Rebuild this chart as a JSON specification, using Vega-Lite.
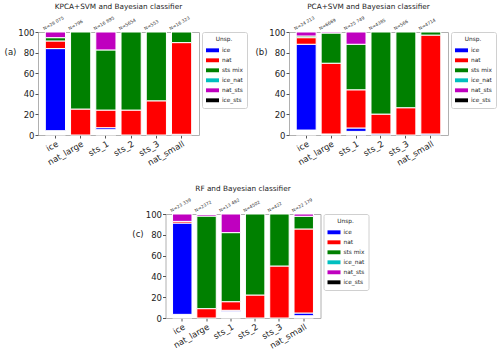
{
  "$schema": "https://vega.github.io/schema/vega-lite/v6.json",
  "padding": {"left": 3, "top": 2, "right": 0, "bottom": 0},
  "config": {
    "font": "DejaVu Sans",
    "view": {"stroke": "#b0b0b0", "strokeWidth": 1},
    "axis": {"grid": false, "domain": false, "tickColor": "#555", "tickSize": 3, "labelColor": "#222", "labelFontSize": 8.5, "labelPadding": 1, "labelOverlap": false, "labelFlush": false, "labelBound": false},
    "legend": {"strokeColor": "#d0d0d0", "fillColor": "white", "cornerRadius": 2, "padding": 4, "offset": 3, "titleFontSize": 5.8, "titleFontWeight": "normal", "titleColor": "#222", "titleAnchor": "middle", "titlePadding": 2, "labelFontSize": 5.8, "labelColor": "#222", "symbolType": "M-1,-0.3H1V0.3H-1Z", "symbolSize": 169, "symbolStrokeWidth": 0, "rowPadding": -3.5, "labelOffset": 3},
    "title": {"fontSize": 7.3, "fontWeight": "normal", "color": "#222", "offset": 5}
  },
  "datasets": {
    "a": [
      {"cat": "ice", "cls": "none", "rank": 0, "v": 4.2}, {"cat": "ice", "cls": "ice", "rank": 1, "v": 79.7}, {"cat": "ice", "cls": "nat", "rank": 2, "v": 7.4}, {"cat": "ice", "cls": "sts mix", "rank": 3, "v": 3.2}, {"cat": "ice", "cls": "nat_sts", "rank": 5, "v": 5.5},
      {"cat": "nat_large", "cls": "nat", "rank": 2, "v": 25.2}, {"cat": "nat_large", "cls": "sts mix", "rank": 3, "v": 74.8},
      {"cat": "sts_1", "cls": "none", "rank": 0, "v": 5.2}, {"cat": "sts_1", "cls": "ice", "rank": 1, "v": 1.9}, {"cat": "sts_1", "cls": "nat", "rank": 2, "v": 17.1}, {"cat": "sts_1", "cls": "sts mix", "rank": 3, "v": 58.4}, {"cat": "sts_1", "cls": "nat_sts", "rank": 5, "v": 17.4},
      {"cat": "sts_2", "cls": "nat", "rank": 2, "v": 24.2}, {"cat": "sts_2", "cls": "sts mix", "rank": 3, "v": 75.8},
      {"cat": "sts_3", "cls": "nat", "rank": 2, "v": 33.2}, {"cat": "sts_3", "cls": "sts mix", "rank": 3, "v": 66.8},
      {"cat": "nat_small", "cls": "ice", "rank": 1, "v": 0.7}, {"cat": "nat_small", "cls": "nat", "rank": 2, "v": 89.0}, {"cat": "nat_small", "cls": "sts mix", "rank": 3, "v": 10.3}
    ],
    "b": [
      {"cat": "ice", "cls": "none", "rank": 0, "v": 4.8}, {"cat": "ice", "cls": "ice", "rank": 1, "v": 83.3}, {"cat": "ice", "cls": "nat", "rank": 2, "v": 6.4}, {"cat": "ice", "cls": "sts mix", "rank": 3, "v": 1.6}, {"cat": "ice", "cls": "nat_sts", "rank": 5, "v": 3.9},
      {"cat": "nat_large", "cls": "none", "rank": 0, "v": 1.0}, {"cat": "nat_large", "cls": "nat", "rank": 2, "v": 68.7}, {"cat": "nat_large", "cls": "sts mix", "rank": 3, "v": 29.3}, {"cat": "nat_large", "cls": "nat_sts", "rank": 5, "v": 1.0},
      {"cat": "sts_1", "cls": "none", "rank": 0, "v": 3.5}, {"cat": "sts_1", "cls": "ice", "rank": 1, "v": 3.3}, {"cat": "sts_1", "cls": "nat", "rank": 2, "v": 37.1}, {"cat": "sts_1", "cls": "sts mix", "rank": 3, "v": 44.2}, {"cat": "sts_1", "cls": "nat_sts", "rank": 5, "v": 11.9},
      {"cat": "sts_2", "cls": "ice", "rank": 1, "v": 1.0}, {"cat": "sts_2", "cls": "nat", "rank": 2, "v": 19.3}, {"cat": "sts_2", "cls": "sts mix", "rank": 3, "v": 79.7},
      {"cat": "sts_3", "cls": "nat", "rank": 2, "v": 26.5}, {"cat": "sts_3", "cls": "sts mix", "rank": 3, "v": 73.5},
      {"cat": "nat_small", "cls": "ice", "rank": 1, "v": 1.0}, {"cat": "nat_small", "cls": "nat", "rank": 2, "v": 96.0}, {"cat": "nat_small", "cls": "sts mix", "rank": 3, "v": 3.0}
    ],
    "c": [
      {"cat": "ice", "cls": "none", "rank": 0, "v": 3.5}, {"cat": "ice", "cls": "ice", "rank": 1, "v": 87.8}, {"cat": "ice", "cls": "nat", "rank": 2, "v": 1.6}, {"cat": "ice", "cls": "nat_sts", "rank": 5, "v": 7.1},
      {"cat": "nat_large", "cls": "nat", "rank": 2, "v": 9.0}, {"cat": "nat_large", "cls": "sts mix", "rank": 3, "v": 89.0}, {"cat": "nat_large", "cls": "nat_sts", "rank": 5, "v": 1.5}, {"cat": "nat_large", "cls": "ice_sts", "rank": 6, "v": 0.5},
      {"cat": "sts_1", "cls": "none", "rank": 0, "v": 6.1}, {"cat": "sts_1", "cls": "ice", "rank": 1, "v": 1.3}, {"cat": "sts_1", "cls": "nat", "rank": 2, "v": 8.3}, {"cat": "sts_1", "cls": "sts mix", "rank": 3, "v": 66.4}, {"cat": "sts_1", "cls": "nat_sts", "rank": 5, "v": 17.9},
      {"cat": "sts_2", "cls": "nat", "rank": 2, "v": 22.1}, {"cat": "sts_2", "cls": "sts mix", "rank": 3, "v": 77.9},
      {"cat": "sts_3", "cls": "nat", "rank": 2, "v": 50.0}, {"cat": "sts_3", "cls": "sts mix", "rank": 3, "v": 50.0},
      {"cat": "nat_small", "cls": "none", "rank": 0, "v": 2.2}, {"cat": "nat_small", "cls": "ice", "rank": 1, "v": 2.6}, {"cat": "nat_small", "cls": "nat", "rank": 2, "v": 80.8}, {"cat": "nat_small", "cls": "sts mix", "rank": 3, "v": 12.2}, {"cat": "nat_small", "cls": "nat_sts", "rank": 5, "v": 2.2}
    ],
    "an": [
      {"cat": "ice", "n": "N=28 075"}, {"cat": "nat_large", "n": "N=796"}, {"cat": "sts_1", "n": "N=16 895"}, {"cat": "sts_2", "n": "N=5654"}, {"cat": "sts_3", "n": "N=553"}, {"cat": "nat_small", "n": "N=16 323"}
    ],
    "bn": [
      {"cat": "ice", "n": "N=24 213"}, {"cat": "nat_large", "n": "N=6669"}, {"cat": "sts_1", "n": "N=25 749"}, {"cat": "sts_2", "n": "N=4385"}, {"cat": "sts_3", "n": "N=566"}, {"cat": "nat_small", "n": "N=4714"}
    ],
    "cn": [
      {"cat": "ice", "n": "N=23 339"}, {"cat": "nat_large", "n": "N=2372"}, {"cat": "sts_1", "n": "N=13 482"}, {"cat": "sts_2", "n": "N=4502"}, {"cat": "sts_3", "n": "N=422"}, {"cat": "nat_small", "n": "N=22 179"}
    ]
  },
  "resolve": {"legend": {"color": "independent"}},
  "center": true,
  "spacing": 16,
  "vconcat": [
    {
      "resolve": {"legend": {"color": "independent"}},
      "spacing": 6,
      "hconcat": [
        {
          "width": 161, "height": 103,
          "title": "KPCA+SVM and Bayesian classifier",
          "layer": [
            {
              "data": {"name": "a"},
              "mark": {"type": "bar", "stroke": "white", "strokeWidth": 1},
              "encoding": {
                "x": {"field": "cat", "type": "nominal", "sort": ["ice", "nat_large", "sts_1", "sts_2", "sts_3", "nat_small"], "scale": {"paddingInner": 0.2, "paddingOuter": 0.29}, "axis": {"title": null, "labelAngle": -30, "labelAlign": "right", "labelBaseline": "top", "labelOverlap": false}},
                "y": {"field": "v", "type": "quantitative", "stack": "zero", "scale": {"domain": [0, 100], "nice": false}, "axis": {"tickCount": 5, "labelOverlap": false, "labelFlush": false, "title": "(a)", "titleAngle": 0, "titleFontSize": 8.5, "titleFontWeight": "normal", "titleColor": "#222", "titleX": -28, "titleY": 19, "titleAlign": "center", "titleBaseline": "middle"}},
                "order": {"field": "rank", "type": "quantitative", "sort": "ascending"},
                "color": {"field": "cls", "type": "nominal", "scale": {"domain": ["none", "ice", "nat", "sts mix", "ice_nat", "nat_sts", "ice_sts"], "range": ["#ffffff", "#0000ff", "#ff0000", "#008000", "#00bfbf", "#bf00bf", "#000000"]}, "legend": {"title": "Unsp.", "values": ["ice", "nat", "sts mix", "ice_nat", "nat_sts", "ice_sts"]}}
              }
            },
            {
              "data": {"name": "an"},
              "mark": {"type": "text", "angle": 330, "align": "left", "baseline": "bottom", "fontSize": 4.5, "color": "#333", "dy": -1},
              "encoding": {
                "x": {"field": "cat", "type": "nominal", "bandPosition": 0, "sort": ["ice", "nat_large", "sts_1", "sts_2", "sts_3", "nat_small"]},
                "y": {"datum": 100, "type": "quantitative"},
                "text": {"field": "n"}
              }
            }
          ]
        },
        {
          "width": 159, "height": 103,
          "title": "PCA+SVM and Bayesian classifier",
          "layer": [
            {
              "data": {"name": "b"},
              "mark": {"type": "bar", "stroke": "white", "strokeWidth": 1},
              "encoding": {
                "x": {"field": "cat", "type": "nominal", "sort": ["ice", "nat_large", "sts_1", "sts_2", "sts_3", "nat_small"], "scale": {"paddingInner": 0.2, "paddingOuter": 0.29}, "axis": {"title": null, "labelAngle": -30, "labelAlign": "right", "labelBaseline": "top", "labelOverlap": false}},
                "y": {"field": "v", "type": "quantitative", "stack": "zero", "scale": {"domain": [0, 100], "nice": false}, "axis": {"tickCount": 5, "labelOverlap": false, "labelFlush": false, "title": "(b)", "titleAngle": 0, "titleFontSize": 8.5, "titleFontWeight": "normal", "titleColor": "#222", "titleX": -28, "titleY": 19, "titleAlign": "center", "titleBaseline": "middle"}},
                "order": {"field": "rank", "type": "quantitative", "sort": "ascending"},
                "color": {"field": "cls", "type": "nominal", "scale": {"domain": ["none", "ice", "nat", "sts mix", "ice_nat", "nat_sts", "ice_sts"], "range": ["#ffffff", "#0000ff", "#ff0000", "#008000", "#00bfbf", "#bf00bf", "#000000"]}, "legend": {"title": "Unsp.", "values": ["ice", "nat", "sts mix", "ice_nat", "nat_sts", "ice_sts"]}}
              }
            },
            {
              "data": {"name": "bn"},
              "mark": {"type": "text", "angle": 330, "align": "left", "baseline": "bottom", "fontSize": 4.5, "color": "#333", "dy": -1},
              "encoding": {
                "x": {"field": "cat", "type": "nominal", "bandPosition": 0, "sort": ["ice", "nat_large", "sts_1", "sts_2", "sts_3", "nat_small"]},
                "y": {"datum": 100, "type": "quantitative"},
                "text": {"field": "n"}
              }
            }
          ]
        }
      ]
    },
    {
      "width": 155, "height": 104,
      "title": "RF and Bayesian classifier",
      "layer": [
        {
          "data": {"name": "c"},
          "mark": {"type": "bar", "stroke": "white", "strokeWidth": 1},
          "encoding": {
            "x": {"field": "cat", "type": "nominal", "sort": ["ice", "nat_large", "sts_1", "sts_2", "sts_3", "nat_small"], "scale": {"paddingInner": 0.2, "paddingOuter": 0.29}, "axis": {"title": null, "labelAngle": -30, "labelAlign": "right", "labelBaseline": "top", "labelOverlap": false}},
            "y": {"field": "v", "type": "quantitative", "stack": "zero", "scale": {"domain": [0, 100], "nice": false}, "axis": {"tickCount": 5, "labelOverlap": false, "labelFlush": false, "title": "(c)", "titleAngle": 0, "titleFontSize": 8.5, "titleFontWeight": "normal", "titleColor": "#222", "titleX": -28, "titleY": 19, "titleAlign": "center", "titleBaseline": "middle"}},
            "order": {"field": "rank", "type": "quantitative", "sort": "ascending"},
            "color": {"field": "cls", "type": "nominal", "scale": {"domain": ["none", "ice", "nat", "sts mix", "ice_nat", "nat_sts", "ice_sts"], "range": ["#ffffff", "#0000ff", "#ff0000", "#008000", "#00bfbf", "#bf00bf", "#000000"]}, "legend": {"title": "Unsp.", "values": ["ice", "nat", "sts mix", "ice_nat", "nat_sts", "ice_sts"]}}
          }
        },
        {
          "data": {"name": "cn"},
          "mark": {"type": "text", "angle": 330, "align": "left", "baseline": "bottom", "fontSize": 4.5, "color": "#333", "dy": -1},
          "encoding": {
            "x": {"field": "cat", "type": "nominal", "bandPosition": 0, "sort": ["ice", "nat_large", "sts_1", "sts_2", "sts_3", "nat_small"]},
            "y": {"datum": 100, "type": "quantitative"},
            "text": {"field": "n"}
          }
        }
      ]
    }
  ]
}
